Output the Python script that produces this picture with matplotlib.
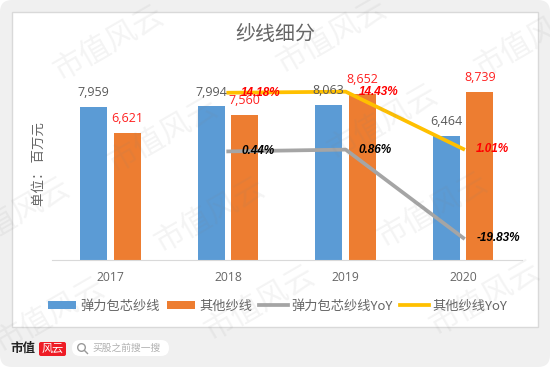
import numpy as np
import matplotlib
matplotlib.use('Agg')
import matplotlib.pyplot as plt
from matplotlib.patches import FancyBboxPatch, Rectangle, Circle

plt.rcParams['font.family'] = ['Noto Sans CJK SC', 'DejaVu Sans']

years = ['2017', '2018', '2019', '2020']
core_yarn = [7959, 7994, 8063, 6464]
other_yarn = [6621, 7560, 8652, 8739]
core_yoy = [None, 0.44, 0.86, -19.83]
other_yoy = [None, 14.18, 14.43, 1.01]

name_core = '弹力包芯纱线'
name_other = '其他纱线'
name_core_yoy = '弹力包芯纱线YoY'
name_other_yoy = '其他纱线YoY'

watermarks = [(109, 43), (163, 135), (332, 36), (530, 40), (383, 122), (210, 215),
              (15, 215), (50, 315), (260, 303), (433, 210), (485, 298)]

W, H = 550, 367
fig = plt.figure(figsize=(W / 100, H / 100), dpi=100, facecolor='white')

# background card, in pixel coordinates
bg = fig.add_axes([0, 0, 1, 1], zorder=0)
bg.set_xlim(0, W)
bg.set_ylim(H, 0)
bg.axis('off')
bg.add_patch(FancyBboxPatch((0, 0), W, H, boxstyle='round,pad=0,rounding_size=12',
                            fc='#f0f0f0', ec='none'))
bg.add_patch(Rectangle((11.5, 11.5), 526.5, 315, fc='white', ec='#d9d9d9', lw=1))

# main chart
left, right, top, bottom = 52, 522, 60, 260
rect = [left / W, 1 - bottom / H, (right - left) / W, (bottom - top) / H]
ax = fig.add_axes(rect, zorder=1)
ax.patch.set_visible(False)
x = np.arange(len(years))
b1 = ax.bar(x - 0.145, core_yarn, 0.23, color='#5b9bd5', label=name_core)
b2 = ax.bar(x + 0.14, other_yarn, 0.23, color='#ed7d31', label=name_other)
ax.set_xlim(-0.5, 3.5)
ax.set_ylim(0, 10400)
ax.set_yticks([])
ax.set_xticks(x)
ax.set_xticklabels(years, family='Open Sans', fontsize=8.7, color='#666666')
ax.tick_params(axis='x', length=0, pad=8)
for s in ['top', 'left', 'right']:
    ax.spines[s].set_visible(False)
ax.spines['bottom'].set_color('#d9d9d9')

ax2 = ax.twinx()
ax2.set_zorder(2)
ax2.patch.set_visible(False)
ax2.set_ylim(-25, 21.85)
ax2.axis('off')
l1, = ax2.plot(x[1:], core_yoy[1:], color='#a5a5a5', lw=2.7, label=name_core_yoy)
l2, = ax2.plot(x[1:], other_yoy[1:], color='#ffc000', lw=2.7, label=name_other_yoy)

for i, v in enumerate(core_yarn):
    ax2.annotate(f'{v:,}', (x[i] - 0.145, v), xycoords=ax.transData, xytext=(0, 14),
                 textcoords='offset pixels', ha='center', va='center',
                 family='Open Sans', fontsize=9, color='#595959')
for i, v in enumerate(other_yarn):
    ax2.annotate(f'{v:,}', (x[i] + 0.14, v), xycoords=ax.transData, xytext=(0, 14),
                 textcoords='offset pixels', ha='center', va='center',
                 family='Open Sans', fontsize=9, color='#ff2020')
for series, col in [(core_yoy, 'black'), (other_yoy, 'red')]:
    for i, v in enumerate(series):
        if v is None:
            continue
        ax2.annotate(f'{v:.2f}%', (x[i], v), xytext=(13, 0), textcoords='offset pixels',
                     ha='left', va='center', family='Liberation Sans', fontsize=8.5,
                     fontweight='bold', fontstyle='italic', color=col)

leg = fig.legend([b1, b2, l1, l2], [name_core, name_other, name_core_yoy, name_other_yoy],
                 loc='center', bbox_to_anchor=(277.5 / W, 1 - 306 / H), ncol=4, frameon=False,
                 fontsize=9.5, labelcolor='#666666', handlelength=2.15, handleheight=0.6,
                 handletextpad=0.3, columnspacing=0.55, borderpad=0, borderaxespad=0)

# title, axis note, footer and watermark in pixel coordinates
over = fig.add_axes([0, 0, 1, 1], zorder=3)
over.set_xlim(0, W)
over.set_ylim(H, 0)
over.axis('off')
over.text(275, 35, '纱线细分', ha='center', va='center', fontsize=14.4, color='#666666')
over.text(39, 164, '单位： 百万元', rotation=90, ha='center', va='center', fontsize=9.7, color='#666666')

over.text(23, 348, '市值', ha='center', va='center', fontsize=9, fontweight='bold', color='#222222',
          family='Noto Sans CJK SC')
over.add_patch(FancyBboxPatch((39, 342), 27, 14, boxstyle='round,pad=0,rounding_size=2',
                              fc='#ee1c25', ec='none'))
over.text(52.5, 349, '风云', ha='center', va='center', fontsize=8, color='white', fontstyle='italic')
over.add_patch(FancyBboxPatch((72, 340), 97, 16, boxstyle='round,pad=0,rounding_size=8',
                              fc='white', ec='none'))
over.add_patch(Circle((81.5, 347.5), 3.8, fc='none', ec='#999999', lw=1))
over.plot([84.5, 87.5], [350.5, 353.5], color='#999999', lw=1)
over.text(126.5, 348, '买股之前搜一搜', ha='center', va='center', fontsize=7, color='#b0b0b0')

for wx, wy in watermarks:
    over.text(wx, wy, '市值风云', rotation=30, rotation_mode='anchor', ha='center', va='center',
              fontsize=22, color='#808080', alpha=0.09, clip_on=True)

fig.savefig('out.png', dpi=100)
